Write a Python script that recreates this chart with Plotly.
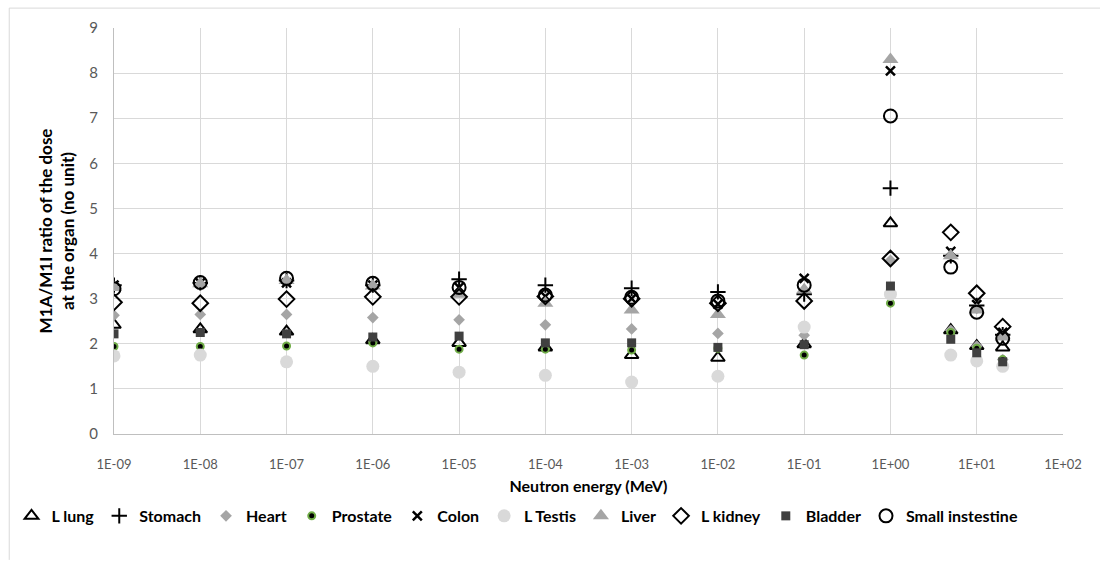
import plotly.graph_objects as go

# Neutron energies (MeV)
energy = [1e-9, 1e-8, 1e-7, 1e-6, 1e-5, 1e-4, 1e-3, 1e-2, 1e-1, 1, 5, 10, 20]

# M1A/M1I dose ratio per organ
l_lung = [2.42, 2.32, 2.27, 2.08, 2.02, 1.92, 1.75, 1.69, 1.99, 4.67, 2.30, 1.95, 1.92]
stomach = [3.30, 3.35, 3.40, 3.30, 3.43, 3.30, 3.23, 3.15, 3.10, 5.45, 3.95, 2.85, 2.20]
heart = [2.63, 2.65, 2.65, 2.58, 2.53, 2.42, 2.33, 2.23, 2.19, 3.85, 2.30, 1.95, 1.65]
prostate = [1.94, 1.94, 1.95, 2.02, 1.88, 1.88, 1.86, 1.90, 1.75, 2.90, 2.25, 1.90, 1.65]
colon = [3.30, 3.35, 3.35, 3.30, 3.25, 3.05, 3.00, 2.88, 3.45, 8.05, 4.05, 2.87, 2.25]
l_testis = [1.73, 1.75, 1.60, 1.50, 1.37, 1.30, 1.15, 1.28, 2.37, 3.10, 1.75, 1.62, 1.50]
liver = [3.25, 3.33, 3.40, 3.28, 3.10, 2.90, 2.75, 2.65, 3.20, 8.30, 3.95, 2.75, 2.15]
l_kidney = [2.92, 2.90, 2.99, 3.04, 3.04, 3.05, 3.00, 2.90, 2.95, 3.89, 4.47, 3.12, 2.38]
bladder = [2.22, 2.25, 2.22, 2.15, 2.17, 2.02, 2.02, 1.92, 1.98, 3.28, 2.10, 1.80, 1.60]
small_intestine = [3.22, 3.36, 3.45, 3.34, 3.25, 3.08, 3.03, 2.95, 3.30, 7.05, 3.70, 2.70, 2.12]

x_ticks = [1e-9, 1e-8, 1e-7, 1e-6, 1e-5, 1e-4, 1e-3, 1e-2, 1e-1, 1, 10, 100]
x_tick_labels = ["1E-09", "1E-08", "1E-07", "1E-06", "1E-05", "1E-04",
                 "1E-03", "1E-02", "1E-01", "1E+00", "1E+01", "1E+02"]
y_ticks = list(range(0, 10))

series = [
    ("L lung", l_lung, dict(symbol="triangle-up-open", size=12, color="black",
                            line=dict(width=2, color="black"))),
    ("Stomach", stomach, dict(symbol="cross-thin-open", size=11, color="black",
                              line=dict(width=2, color="black"))),
    ("Heart", heart, dict(symbol="diamond", size=9, color="#a5a5a5",
                          line=dict(width=0))),
    ("Prostate", prostate, dict(symbol="circle", size=7, color="black",
                                line=dict(width=2, color="#70ad47"))),
    ("Colon", colon, dict(symbol="x-thin-open", size=9, color="black",
                          line=dict(width=2.5, color="black"))),
    ("L Testis", l_testis, dict(symbol="circle", size=13, color="#d9d9d9",
                                line=dict(width=0))),
    ("Liver", liver, dict(symbol="triangle-up", size=14, color="#a5a5a5",
                          line=dict(width=0))),
    ("L kidney", l_kidney, dict(symbol="diamond-open", size=12, color="black",
                                line=dict(width=2, color="black"))),
    ("Bladder", bladder, dict(symbol="square", size=9, color="#404040",
                              line=dict(width=0))),
    ("Small instestine", small_intestine, dict(symbol="circle-open", size=13, color="black",
                                                line=dict(width=2, color="black"))),
]

fig = go.Figure()
for name, vals, marker in series:
    fig.add_trace(go.Scatter(x=energy, y=vals, mode="markers", name=name, marker=marker))

grid = "#d9d9d9"
fig.update_layout(
    width=1100, height=567,
    margin=dict(l=112, r=37, t=28, b=133),
    paper_bgcolor="white", plot_bgcolor="white",
    font=dict(family="Lato, Calibri, sans-serif", color="#595959"),
    showlegend=True,
    legend=dict(orientation="h", x=-0.108, xanchor="left",
                y=-0.16, yanchor="top",
                font=dict(size=16, color="black", family="Lato, sans-serif", weight="bold"),
                itemwidth=30, tracegroupgap=0),
    xaxis=dict(type="log", range=[-9, 2], tickvals=x_ticks, ticktext=x_tick_labels,
               showgrid=True, gridcolor=grid, gridwidth=1,
               showline=True, linecolor="#bfbfbf", linewidth=1, mirror=False,
               ticks="", tickfont=dict(size=13, color="#595959"), ticklabelstandoff=18,
               title=dict(text="<b>Neutron energy (MeV)</b>", standoff=10,
                          font=dict(size=16, color="black")),
               zeroline=False),
    yaxis=dict(range=[0, 9], tickvals=y_ticks, showgrid=True, gridcolor=grid, gridwidth=1,
               showline=True, linecolor="#bfbfbf", linewidth=1,
               ticks="", tickfont=dict(size=15, color="#595959"), ticklabelstandoff=12,
               title=dict(text="<b>M1A/M1I ratio of the dose<br>at the organ (no unit)</b>",
                          standoff=10, font=dict(size=17, color="black")),
               zeroline=False),
)

# outer chart frame (left and top edges)
fig.add_shape(type="line", xref="paper", yref="paper", x0=-0.1104, x1=-0.1104, y0=-0.31, y1=1.049,
              line=dict(color="#d9d9d9", width=1))
fig.add_shape(type="line", xref="paper", yref="paper", x0=-0.1104, x1=1.04, y0=1.049, y1=1.049,
              line=dict(color="#d9d9d9", width=1))

fig.write_html("out.html")
